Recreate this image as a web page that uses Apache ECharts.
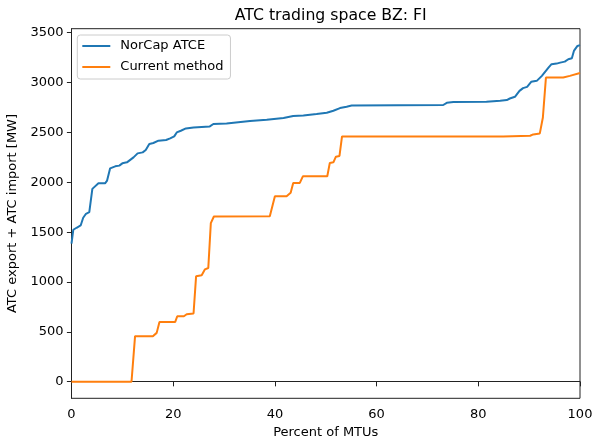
<!DOCTYPE html>
<html>
<head>
<meta charset="utf-8">
<script src="https://cdn.jsdelivr.net/npm/echarts@6/dist/echarts.min.js"></script>
<style>html,body{margin:0;padding:0;background:#fff}#c{width:596px;height:438px}</style>
</head>
<body>
<div id="c"></div>
<script>
const titleText = 'ATC trading space BZ: FI';
const xAxisName = 'Percent of MTUs';
const yAxisName = 'ATC export + ATC import [MW]';
const seriesNames = ['NorCap ATCE', 'Current method'];
const xTicks = [0, 20, 40, 60, 80, 100];
const yTicks = [0, 500, 1000, 1500, 2000, 2500, 3000, 3500];

const norcapX = [0, 0.35, 1.0, 1.8, 2.3, 2.85, 3.5, 4.1, 5.3, 6.6, 7.0, 7.6, 8.6, 9.4, 10.0, 10.9, 12.2, 13.0, 14.0, 14.6, 15.3, 16.1, 17.1, 18.6, 19.4, 20.2, 20.7, 21.5, 22.5, 24.0, 27.2, 27.9, 30.5, 35.1, 38.4, 41.7, 43.6, 45.6, 48.2, 50.2, 51.5, 52.8, 54.1, 55.1, 73.1, 73.8, 75.1, 81.6, 84.3, 85.6, 86.2, 87.2, 87.5, 88.1, 88.8, 89.6, 90.4, 91.5, 92.5, 93.8, 94.4, 95.4, 96.1, 97.0, 97.7, 98.4, 98.8, 99.5, 100];
const norcapY = [1384, 1524, 1544, 1567, 1644, 1684, 1700, 1934, 1990, 1990, 2017, 2140, 2160, 2167, 2190, 2200, 2250, 2290, 2300, 2324, 2384, 2394, 2417, 2424, 2440, 2460, 2500, 2517, 2540, 2550, 2560, 2584, 2590, 2615, 2627, 2644, 2664, 2670, 2684, 2697, 2717, 2744, 2757, 2770, 2775, 2797, 2804, 2807, 2817, 2824, 2840, 2857, 2867, 2917, 2944, 2957, 3007, 3017, 3067, 3150, 3184, 3190, 3200, 3210, 3234, 3244, 3317, 3367, 3375];

const currentX = [0, 11.8, 12.5, 16.0, 16.75, 17.3, 20.4, 20.8, 22.1, 22.65, 24.0, 24.5, 25.6, 26.25, 26.9, 27.4, 28.0, 39.0, 40.0, 42.3, 43.1, 43.6, 44.9, 45.5, 50.3, 50.8, 51.5, 52.0, 52.7, 53.2, 84.9, 90.2, 90.8, 92.1, 92.7, 93.3, 96.7, 98.0, 100];
const currentY = [0, 0, 457, 457, 490, 600, 600, 657, 657, 677, 684, 1057, 1067, 1127, 1140, 1590, 1657, 1660, 1860, 1860, 1894, 1994, 1994, 2060, 2060, 2194, 2200, 2257, 2264, 2460, 2460, 2467, 2480, 2490, 2650, 3050, 3050, 3067, 3095];

const zip = (xs, ys) => xs.map((x, i) => [x, ys[i]]);
const font = 'DejaVu Sans';
const axisColor = '#222';

const chart = echarts.init(document.getElementById('c'), null, {renderer: 'canvas'});
chart.setOption({
  animation: false,
  backgroundColor: '#fff',
  title: {
    text: titleText,
    left: 325.75,
    textAlign: 'center',
    top: 3,
    textStyle: {fontFamily: font, fontSize: 15.7, fontWeight: 'normal', color: '#000'}
  },
  legend: {
    orient: 'vertical',
    left: 77.3,
    top: 35,
    padding: [4, 7, 5, 5],
    icon: 'rect',
    itemWidth: 28,
    itemHeight: 2,
    itemGap: 7,
    backgroundColor: 'rgba(255,255,255,0.8)',
    borderColor: '#cccccc',
    borderWidth: 1,
    borderRadius: 3,
    textStyle: {fontFamily: font, fontSize: 13, color: '#000', padding: [0, 0, 0, 5], lineHeight: 14},
    data: seriesNames
  },
  grid: {
    left: 71.5, right: 16, top: 28.7, bottom: 39.7,
    outerBoundsMode: 'none', containLabel: false,
    show: true, borderColor: axisColor, borderWidth: 1, backgroundColor: 'transparent'
  },
  xAxis: {
    type: 'value', min: 0, max: 100, interval: 20,
    name: xAxisName, nameLocation: 'middle', nameGap: 27,
    nameTextStyle: {fontFamily: font, fontSize: 13, color: '#000'},
    axisLine: {show: true, lineStyle: {color: axisColor, width: 1}},
    axisTick: {show: true, inside: false, length: 4.6, lineStyle: {color: axisColor, width: 1}},
    axisLabel: {fontFamily: font, fontSize: 13, color: '#000', margin: 10,
      customValues: xTicks, formatter: v => String(v)},
    splitLine: {show: false}
  },
  yAxis: {
    type: 'value', min: -166, max: 3540,
    name: yAxisName, nameLocation: 'middle', nameGap: 44, nameRotate: 90,
    nameTextStyle: {fontFamily: font, fontSize: 13, color: '#000'},
    axisLine: {show: true, lineStyle: {color: axisColor, width: 1}},
    axisTick: {show: true, inside: false, length: 4.6, lineStyle: {color: axisColor, width: 1}, customValues: yTicks},
    axisLabel: {fontFamily: font, fontSize: 13, color: '#000', margin: 8,
      customValues: yTicks, formatter: v => String(v)},
    splitLine: {show: false}
  },
  series: [
    {
      name: seriesNames[0], type: 'line', data: zip(norcapX, norcapY),
      symbol: 'none', showSymbol: false, smooth: false,
      lineStyle: {color: '#1f77b4', width: 2}, itemStyle: {color: '#1f77b4'}, z: 3
    },
    {
      name: seriesNames[1], type: 'line', data: zip(currentX, currentY),
      symbol: 'none', showSymbol: false, smooth: false,
      lineStyle: {color: '#ff7f0e', width: 2}, itemStyle: {color: '#ff7f0e'}, z: 2
    }
  ]
});
</script>
</body>
</html>
